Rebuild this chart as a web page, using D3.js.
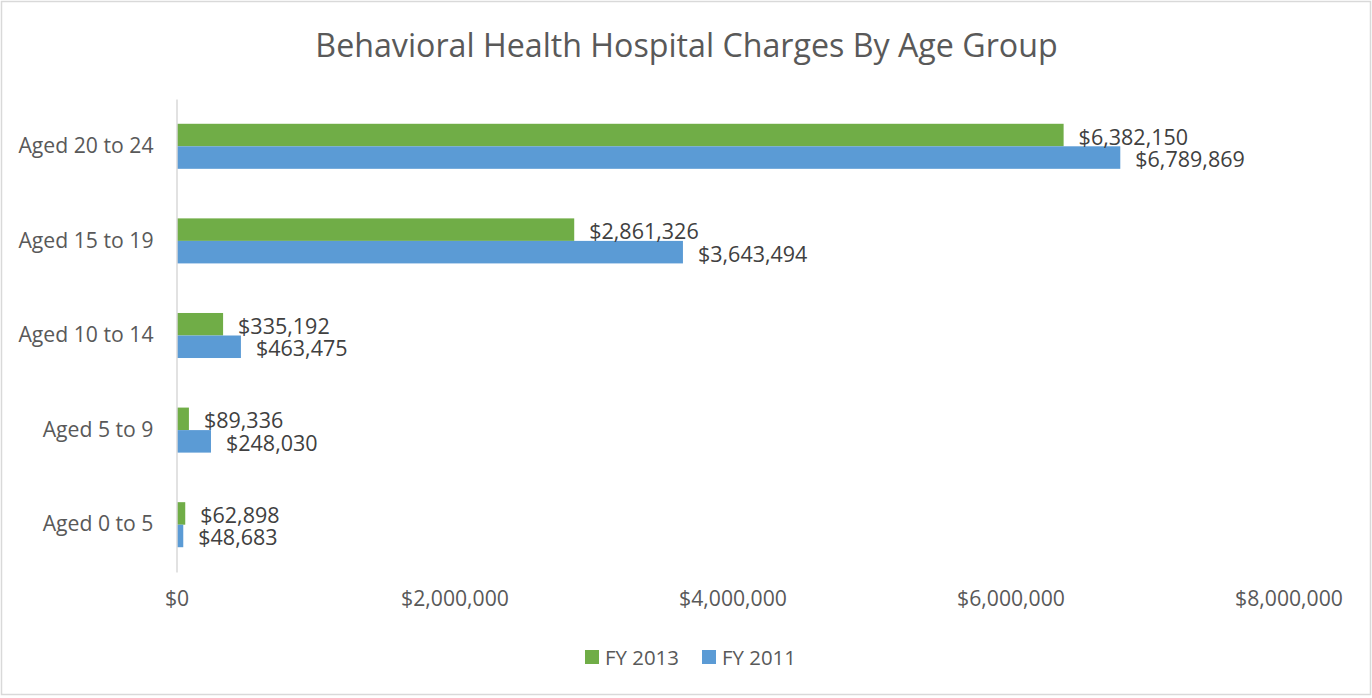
<!DOCTYPE html>
<html>
<head>
<meta charset="utf-8">
<script src="https://cdn.jsdelivr.net/npm/d3@7"></script>
<style>
  html, body { margin: 0; padding: 0; background: #fff; }
  svg { display: block; font-family: "Open Sans", sans-serif; }
</style>
</head>
<body>
<svg id="chart" width="1372" height="698"></svg>
<script>
const title = "Behavioral Health Hospital Charges By Age Group";
const categories = ["Aged 20 to 24", "Aged 15 to 19", "Aged 10 to 14", "Aged 5 to 9", "Aged 0 to 5"];
const seriesNames = ["FY 2013", "FY 2011"];
const fy2013 = [6382150, 2861326, 335192, 89336, 62898];
const fy2011 = [6789869, 3643494, 463475, 248030, 48683];
const xTicks = [0, 2000000, 4000000, 6000000, 8000000];
const colors = ["#70AD47", "#5B9BD5"];

const svg = d3.select("#chart");
const W = 1372, H = 698;

// outer border
svg.append("rect").attr("x", 1.5).attr("y", 1.5).attr("width", W - 3).attr("height", H - 5)
  .attr("fill", "#fff").attr("stroke", "#d9d9d9").attr("stroke-width", 1.5);

const plot = { left: 176.5, right: 1288.5, top: 99, bottom: 572 };

const x = d3.scaleLinear().domain([0, 8000000]).range([plot.left, plot.right]);
const y = d3.scaleBand().domain(categories).range([plot.top, plot.bottom])
  .paddingInner(0.524).paddingOuter(0.262);
const ySub = d3.scaleBand().domain(seriesNames).range([0, y.bandwidth()]);

const fmt = d3.format("$,.0f");

// title
svg.append("text").attr("x", 686.5).attr("y", 44).attr("text-anchor", "middle")
  .attr("dominant-baseline", "central").attr("fill", "#595959")
  .style("font-size", "32.2px").text(title);

// bars
const data = categories.map((c, i) => ({ cat: c, values: [fy2013[i], fy2011[i]] }));
const groups = svg.append("g").selectAll("g").data(data).join("g")
  .attr("transform", d => `translate(0,${y(d.cat)})`);

groups.selectAll("rect").data(d => d.values.map((v, j) => ({ v, s: seriesNames[j], j })))
  .join("rect")
  .attr("x", x(0) + 0.5)
  .attr("y", d => ySub(d.s))
  .attr("width", d => x(d.v) - x(0) - 0.5)
  .attr("height", ySub.bandwidth())
  .attr("fill", d => colors[d.j]);

groups.selectAll("text.lbl").data(d => d.values.map((v, j) => ({ v, s: seriesNames[j], j })))
  .join("text").attr("class", "lbl")
  .attr("x", d => x(d.v) + 15)
  .attr("y", d => ySub(d.s) + ySub.bandwidth() / 2 + 1)
  .attr("dominant-baseline", "central")
  .attr("fill", "#404040").style("font-size", "21.5px")
  .text(d => fmt(d.v));

// y axis
const yAxis = svg.append("g").attr("transform", `translate(${plot.left},0)`)
  .call(d3.axisLeft(y).tickSize(0).tickPadding(23));
yAxis.select(".domain").attr("stroke", "#d9d9d9").attr("stroke-width", 1.5);
yAxis.selectAll("text").attr("fill", "#595959").style("font-size", "21.2px")
  .style("font-family", "Open Sans, sans-serif");

// x axis
const xAxis = svg.append("g").attr("transform", `translate(0,${plot.bottom})`)
  .call(d3.axisBottom(x).tickValues(xTicks).tickSize(0).tickPadding(19).tickFormat(fmt));
xAxis.select(".domain").remove();
xAxis.selectAll("text").attr("fill", "#595959").style("font-size", "21.2px")
  .style("font-family", "Open Sans, sans-serif");

// legend
const legendItems = [{ name: seriesNames[0], x: 585 }, { name: seriesNames[1], x: 702 }];
const lg = svg.append("g").selectAll("g").data(legendItems).join("g")
  .attr("transform", d => `translate(${d.x},650)`);
lg.append("rect").attr("width", 14).attr("height", 14).attr("fill", (d, i) => colors[i]);
lg.append("text").attr("x", 20).attr("y", 7).attr("dominant-baseline", "central")
  .attr("fill", "#595959").style("font-size", "20.4px").text(d => d.name);
</script>
</body>
</html>
